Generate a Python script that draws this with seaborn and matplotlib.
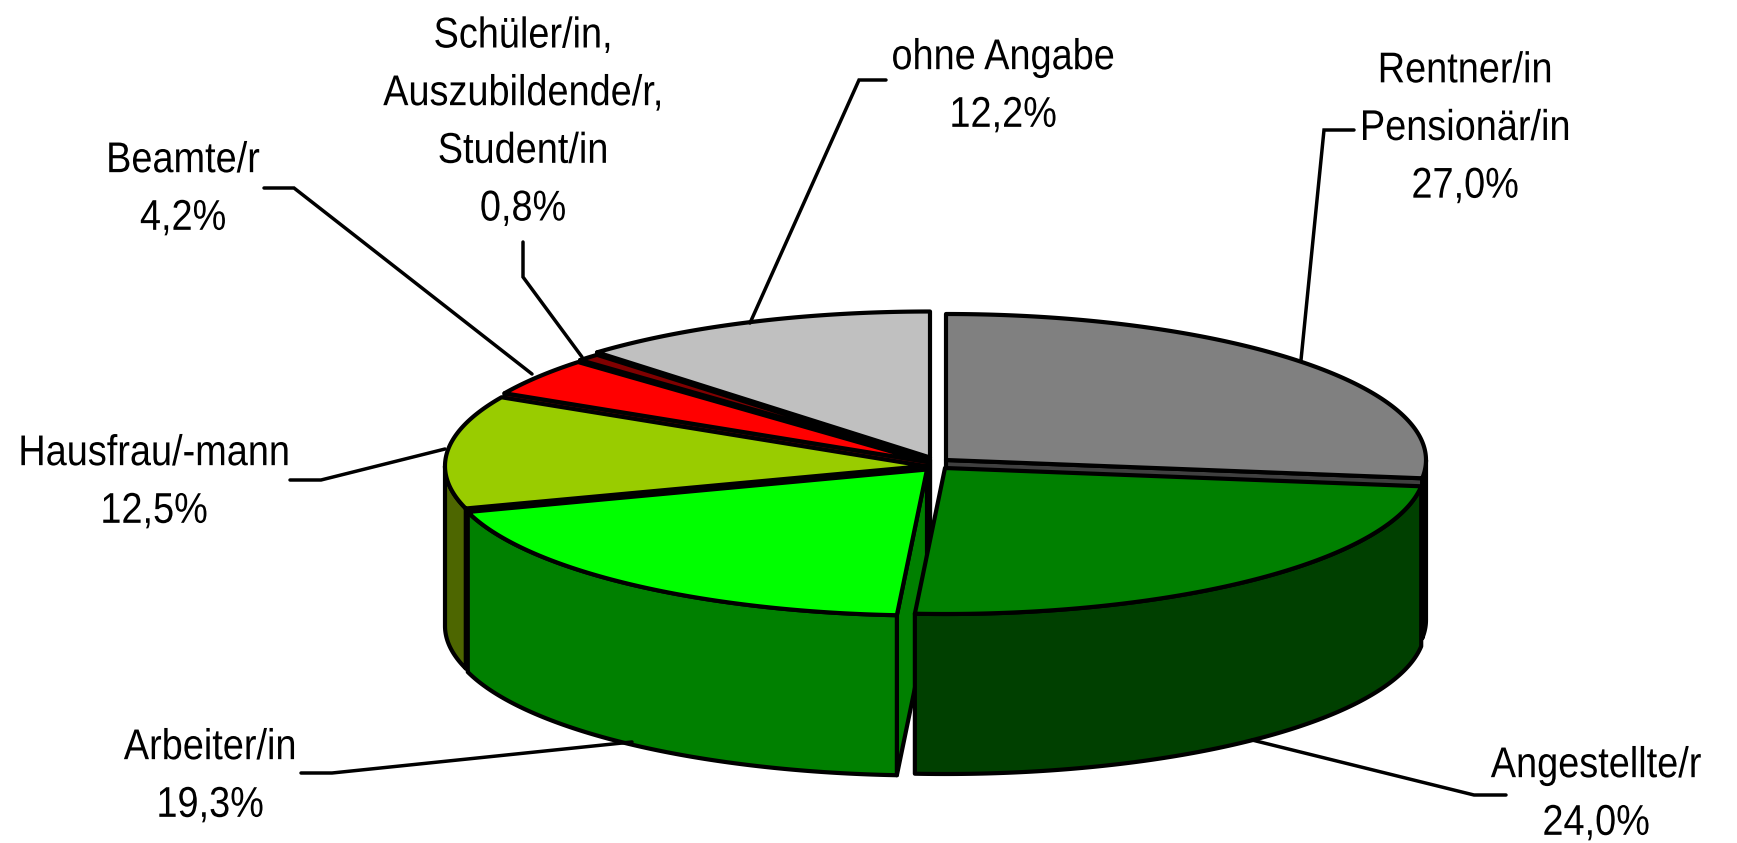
import numpy as np
import matplotlib
matplotlib.use('Agg')
import matplotlib.pyplot as plt
from matplotlib.patheffects import AbstractPathEffect
from matplotlib.transforms import Affine2D
import seaborn as sns

# Data, clockwise from 12 o'clock
categories = ['Rentner/in\nPensionär/in', 'Angestellte/r', 'Arbeiter/in', 'Hausfrau/-mann',
              'Beamte/r', 'Schüler/in,\nAuszubildende/r,\nStudent/in', 'ohne Angabe']
values = [27.0, 24.0, 19.3, 12.5, 4.2, 0.8, 12.2]
top_colors = ['#808080', '#008000', '#00FF00', '#99CC00', '#FF0000', '#800000', '#C0C0C0']
side_colors = ['#404040', '#004000', '#008000', '#4D6600', '#800000', '#400000', '#606060']

# Pie geometry in pixels
A, B, DEPTH = 480, 146, 160
tips = [(946, 460), (945, 468), (927, 469.5), (925, 466), (928, 462), (930, 460), (930, 457.5)]
label_pos = [(1465, 129), (1596, 795), (210, 777), (154, 483), (183, 190), (523, 123), (1003, 87)]
leaders = [[(1301, 360), (1324, 130), (1354, 130)],
           [(1252, 740), (1474, 795), (1506, 795)],
           [(632, 742), (332, 773), (301, 773)],
           [(445, 449), (321, 480), (290, 480)],
           [(532, 374), (294, 188), (264, 188)],
           [(582, 357), (523, 277), (523, 242)],
           [(750, 323), (859, 80), (886, 80)]]
LINE = 3.0
LEADER = 2.5
FONT_SIZE = 31
X_SQUEEZE = 0.88


class Squeeze(AbstractPathEffect):
    # the reference font is narrower than Arial, squeeze glyphs around the label centre
    def __init__(self, cx, factor):
        super().__init__()
        self.cx = cx
        self.factor = factor

    def draw_path(self, renderer, gc, tpath, affine, rgbFace=None):
        squeeze = Affine2D().translate(-self.cx, 0).scale(self.factor, 1).translate(self.cx, 0)
        renderer.draw_path(gc, tpath, affine + squeeze, rgbFace)


sns.set_theme(style='white')
plt.rcParams['font.family'] = ['Liberation Sans']

fig = plt.figure(figsize=(17.37, 8.43), dpi=100)
ax = fig.add_axes([0, 0, 1, 1])
ax.set_xlim(0, 1737)
ax.set_ylim(843, 0)
ax.axis('off')

edges = np.cumsum([0] + values) * 3.6


def rim(tip, a0, a1):
    t = np.radians(np.linspace(a0, a1, max(int(a1 - a0) * 2, 2)))
    return tip[0] + A * np.sin(t), tip[1] - B * np.cos(t)


def draw_face(xs, ys, color, z):
    ax.fill(xs, ys, facecolor=color, edgecolor='black', linewidth=LINE, joinstyle='round', zorder=z)


# back slices first, the front ones overlap them
order = [6, 5, 4, 0, 3, 2, 1]
for z, i in enumerate(order):
    a0, a1 = edges[i], edges[i + 1]
    tip = tips[i]
    base = z * 10
    # cut faces, only seen where they turn toward the viewer
    visible = []
    if a1 < 180:
        visible.append(a1)
    if a0 > 180:
        visible.append(a0)
    for a in visible:
        x, y = rim(tip, a, a + 0.01)
        draw_face([tip[0], x[0], x[0], tip[0]],
                  [tip[1], y[0], y[0] + DEPTH, tip[1] + DEPTH], side_colors[i], base + 1)
    # outer wall on the front half
    lo, hi = max(a0, 90), min(a1, 270)
    if lo < hi:
        x, y = rim(tip, lo, hi)
        draw_face(np.r_[x, x[::-1]], np.r_[y, y[::-1] + DEPTH], side_colors[i], base + 2)
    x, y = rim(tip, a0, a1)
    draw_face(np.r_[tip[0], x], np.r_[tip[1], y], top_colors[i], base + 3)

for pts in leaders:
    px, py = zip(*pts)
    ax.plot(px, py, color='black', lw=LEADER, solid_joinstyle='miter', zorder=200)

for cat, val, pos in zip(categories, values, label_pos):
    txt = cat + '\n' + f'{val:.1f}%'.replace('.', ',')
    t = ax.text(pos[0], pos[1], txt, ha='center', va='center', fontsize=FONT_SIZE, color='black',
                linespacing=1.57, zorder=210)
    t.set_path_effects([Squeeze(pos[0], X_SQUEEZE)])

fig.savefig('out.png', dpi=100, facecolor='white')
